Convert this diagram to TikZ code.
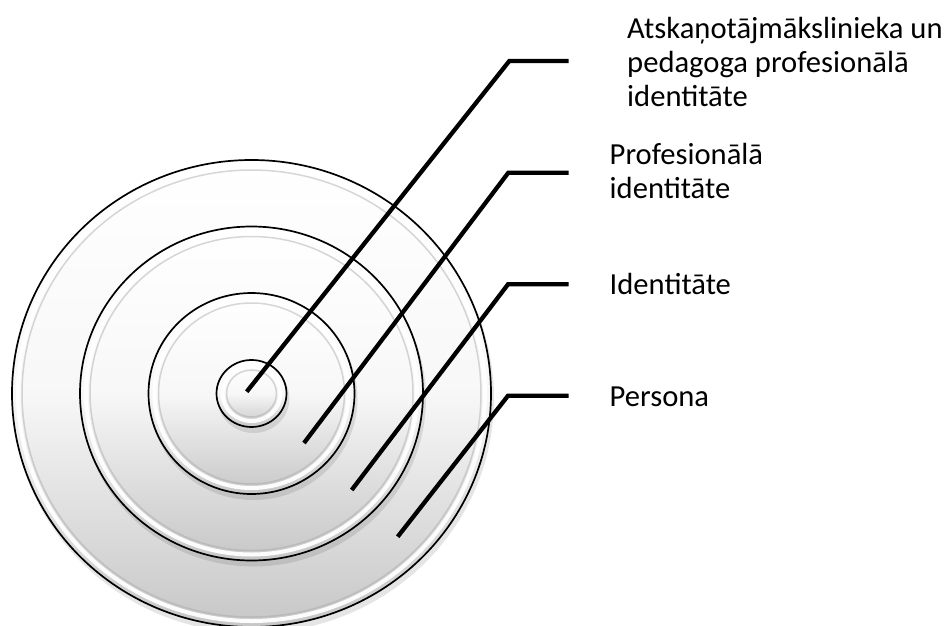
\documentclass[tikz,border=0pt]{standalone}
\usepackage{fontspec}
\setmainfont{Carlito}
\begin{document}
\begin{tikzpicture}[x=1pt,y=-1pt,
  leader/.style={line width=4.3pt, line join=miter, line cap=butt},
  lbl/.style={inner sep=0pt, anchor=base west, align=left, font=\fontsize{30.6}{34}\selectfont},
  discshade/.style={top color=white, bottom color=black!22, middle color=black!3},
  hiring/.style={white, line width=4pt, opacity=0.95},
  shring/.style={black!35, line width=1.5pt, opacity=0.45},
  rim/.style={black, line width=1.7pt},
  dropshadow/.style={black, opacity=0.10}]
\useasboundingbox (0,0) rectangle (950,626);
\fill[white] (0,0) rectangle (950,626);
\coordinate (c) at (251.5,393.5);
\foreach \rx/\ry in {239.5/233.5,171.5/167,103/100.5,35/33.5}{
  \fill[dropshadow] ([shift={(2,5)}]c) ellipse [x radius=\rx pt+1pt, y radius=\ry pt+1pt];
  \shade[discshade] (c) ellipse [x radius=\rx pt, y radius=\ry pt];
  \draw[hiring] (c) ellipse [x radius=\rx pt-6pt, y radius=\ry pt-6pt];
  \draw[shring] (c) ellipse [x radius=\rx pt-10pt, y radius=\ry pt-10pt];
  \draw[rim] (c) ellipse [x radius=\rx pt, y radius=\ry pt];
}
\coordinate (p1) at (246.7,391.7); \coordinate (b1) at (509.3,61);    \coordinate (e1) at (568.5,61);
\coordinate (p2) at (304,443);     \coordinate (b2) at (508.3,172.7); \coordinate (e2) at (568.5,172.7);
\coordinate (p3) at (351.7,490);   \coordinate (b3) at (508,284.3);   \coordinate (e3) at (568.5,284.3);
\coordinate (p4) at (397.7,536.7); \coordinate (b4) at (508,395.7);   \coordinate (e4) at (568.5,395.7);
\draw[leader] (p1) -- (b1) -- (e1);
\draw[leader] (p2) -- (b2) -- (e2);
\draw[leader] (p3) -- (b3) -- (e3);
\draw[leader] (p4) -- (b4) -- (e4);
\node[lbl] (l1) at (627,106.7) {Atskaņotājmākslinieka un\\pedagoga profesionālā\\identitāte};
\node[lbl] (l2) at (609.5,198.3) {Profesionālā\\identitāte};
\node[lbl] (l3) at (609.5,294.3) {Identitāte};
\node[lbl] (l4) at (609.5,406) {Persona};
\end{tikzpicture}
\end{document}
